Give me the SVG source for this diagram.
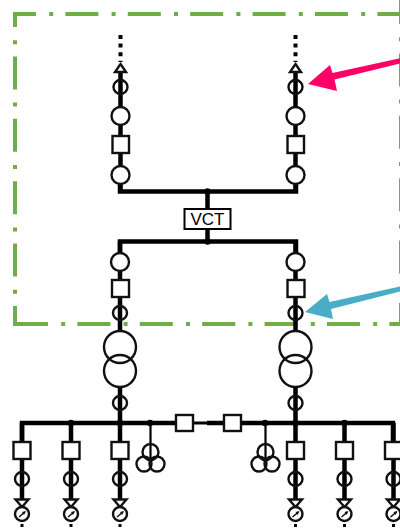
<svg xmlns="http://www.w3.org/2000/svg" width="400" height="529" viewBox="0 0 400 529">
<style>
.g{fill:none;stroke:#70ad47;stroke-width:4;stroke-dasharray:33 13.2 4 12.2}
.b{fill:none;stroke:#000;stroke-width:4.500}
.t{fill:none;stroke:#000;stroke-width:2.200}
.w{fill:#fff;stroke:#111;stroke-width:2.400}
.n{fill:none;stroke:#111;stroke-width:2.400}
.d{fill:#000}
.s{fill:none;stroke:#000;stroke-width:4;stroke-dasharray:4 4.6}
text{font-family:"Liberation Sans",Arial,sans-serif;font-size:17px;fill:#000;text-anchor:middle}
</style>
<defs>
<g id="feeder">
<line class="b" x1="0" y1="423" x2="0" y2="499"/>
<rect class="w" x="-8.500" y="442" width="17" height="17"/>
<circle class="n" cx="0" cy="479" r="7"/>
<path class="w" d="M-6.500,499.500H6.500L0,507Z"/>
<circle class="w" cx="0" cy="514" r="7"/>
<path fill="none" stroke="#111" stroke-width="1.500" d="M-3,517L3,512"/>
<path fill="#111" d="M4,511L0,512L2,515Z"/>
<rect class="d" x="-1.500" y="524" width="3" height="3"/>
</g>
<g id="pt">
<line class="t" x1="0" y1="423" x2="0" y2="460"/>
<circle class="n" cx="0" cy="452" r="8"/>
<circle class="n" cx="-6.500" cy="464" r="7.500"/>
<circle class="n" cx="6.500" cy="464" r="7.500"/>
</g>
<g id="upper">
<path class="s" d="M0,35V62"/>
<line class="b" x1="0" y1="72" x2="0" y2="191"/>
<path class="w" d="M0,64L5.500,72H-5.500Z"/>
<circle class="n" cx="0" cy="87" r="7"/>
<circle class="w" cx="0" cy="116" r="9"/>
<rect class="w" x="-8" y="136" width="16.500" height="17"/>
<circle class="w" cx="0" cy="175" r="9"/>
</g>
<g id="lower">
<line class="b" x1="0" y1="241" x2="0" y2="332"/>
<circle class="w" cx="0" cy="262" r="9"/>
<rect class="w" x="-8" y="280" width="17" height="17"/>
<circle class="n" cx="0" cy="313" r="7"/>
<circle class="n" cx="0" cy="347" r="16"/>
<circle class="n" cx="0" cy="371" r="16"/>
<line class="b" x1="0" y1="387" x2="0" y2="423"/>
<circle class="n" cx="0" cy="403" r="7"/>
</g>
</defs>
<g id="boundary">
<path class="g" stroke-dashoffset="10" d="M13,14H401"/>
<path class="g" stroke-dashoffset="18" d="M15,12V326"/>
<path class="g" d="M15,324H401"/>
<path class="g" stroke-dashoffset="9" d="M401,0V326"/>
</g>
<g id="connectors">
<path class="b" d="M120,175V191.500H296V175"/>
<path class="b" d="M120,262V241.500H296V262"/>
<line class="b" x1="207.500" y1="191" x2="207.500" y2="242"/>
<path class="b" d="M22,442V423H193"/>
<line x1="193" y1="423" x2="207" y2="423" stroke="#000" stroke-width="3"/>
<path class="b" d="M207,423H393V442"/>
</g>
<g id="junctions">
<circle class="d" cx="207.500" cy="191.500" r="3.200"/>
<circle class="d" cx="207.500" cy="241.500" r="3.200"/>
<circle class="d" cx="71" cy="423" r="3.200"/>
<circle class="d" cx="120" cy="423" r="3.200"/>
<circle class="d" cx="150" cy="423" r="3.200"/>
<circle class="d" cx="265" cy="423" r="3.200"/>
<circle class="d" cx="295.500" cy="423" r="3.200"/>
<circle class="d" cx="344.500" cy="423" r="3.200"/>
</g>
<g id="line-upper-left"><use href="#upper" x="120.500"/></g>
<g id="line-upper-right"><use href="#upper" x="295.500"/></g>
<g id="line-lower-left"><use href="#lower" x="120"/></g>
<g id="line-lower-right"><use href="#lower" x="295.500"/></g>
<g id="vct"><rect x="184.500" y="209" width="46" height="20" fill="#fff" stroke="#000" stroke-width="2"/><text x="207.500" y="224.500">VCT</text></g>
<g id="tie-1"><rect class="w" x="176" y="415" width="17" height="16"/></g>
<g id="tie-2"><rect class="w" x="224" y="415" width="17" height="16"/></g>
<g id="pt-left"><use href="#pt" x="150.500"/></g>
<g id="pt-right"><use href="#pt" x="265.500"/></g>
<g id="feeder-1"><use href="#feeder" x="22"/></g>
<g id="feeder-2"><use href="#feeder" x="71"/></g>
<g id="feeder-3"><use href="#feeder" x="120"/></g>
<g id="feeder-4"><use href="#feeder" x="295.500"/></g>
<g id="feeder-5"><use href="#feeder" x="344.500"/></g>
<g id="feeder-6"><use href="#feeder" x="393.500"/></g>
<g id="pointer-pink"><path fill="#ff0066" d="M308,84L330,65L332.500,73L400,58.300V63.500L334.500,79.500L337,91Z"/></g>
<g id="pointer-blue"><path fill="#4bacc6" d="M305,312L327,294L329.500,302L400,286.500V291.500L331,309L333,319Z"/></g>
</svg>
